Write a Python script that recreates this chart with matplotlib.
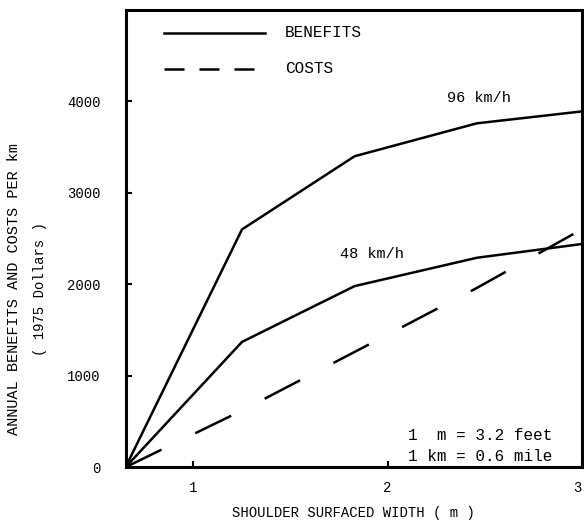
import numpy as np
import matplotlib.pyplot as plt

plt.rcParams['font.family'] = ['Liberation Mono', 'DejaVu Sans Mono']

# shoulder surfaced width (m)
width = [0.65, 1.25, 1.83, 2.46, 3.0]
benefits_96 = [0, 2600, 3400, 3760, 3890]
benefits_48 = [0, 1370, 1980, 2290, 2440]
costs = [0, 620, 1260, 1960, 2600]

fig = plt.figure(figsize=(5.84, 5.22), dpi=100)
ax = fig.add_axes([0.215, 0.105, 0.781, 0.876])

ax.plot(width, benefits_96, c='black', lw=1.8)
ax.plot(width, benefits_48, c='black', lw=1.8)
ax.plot(width, costs, c='black', lw=1.8, dashes=(16, 15))

ax.set_xlim(0.65, 3.0)
ax.set_ylim(0, 5000)
ax.set_xticks([1, 2, 3])
ax.set_yticks([0, 1000, 2000, 3000, 4000])
ax.tick_params(direction='in', length=4, width=1.5, labelsize=10)
ax.tick_params(axis='y', pad=18)
ax.tick_params(axis='x', pad=10)
ax.get_xticklabels()[-1].set_ha('right')
for s in ax.spines.values():
    s.set_linewidth(2.2)

# legend drawn by hand in axes coords
ax.plot([0.085, 0.305], [0.95, 0.95], transform=ax.transAxes, c='black', lw=1.8)
ax.plot([0.085, 0.305], [0.871, 0.871], transform=ax.transAxes, c='black', lw=1.8, dashes=(8, 6))
ax.text(0.35, 0.95, 'BENEFITS', transform=ax.transAxes, va='center', fontsize=11.5)
ax.text(0.35, 0.871, 'COSTS', transform=ax.transAxes, va='center', fontsize=11.5)

ax.text(2.47, 4040, '96 km/h', ha='center', va='center', fontsize=11)
ax.text(1.92, 2330, '48 km/h', ha='center', va='center', fontsize=11)
ax.text(2.85, 350, '1  m = 3.2 feet', ha='right', va='center', fontsize=11.5)
ax.text(2.85, 120, '1 km = 0.6 mile', ha='right', va='center', fontsize=11.5)

ax.set_xlabel('SHOULDER SURFACED WIDTH ( m )', fontsize=10, labelpad=8)
fig.text(14 / 584, 0.446, 'ANNUAL BENEFITS AND COSTS PER km', rotation=90,
         ha='center', va='center', fontsize=11)
fig.text(40 / 584, 0.446, '( 1975 Dollars )', rotation=90,
         ha='center', va='center', fontsize=10)

fig.savefig('out.png', dpi=100)
